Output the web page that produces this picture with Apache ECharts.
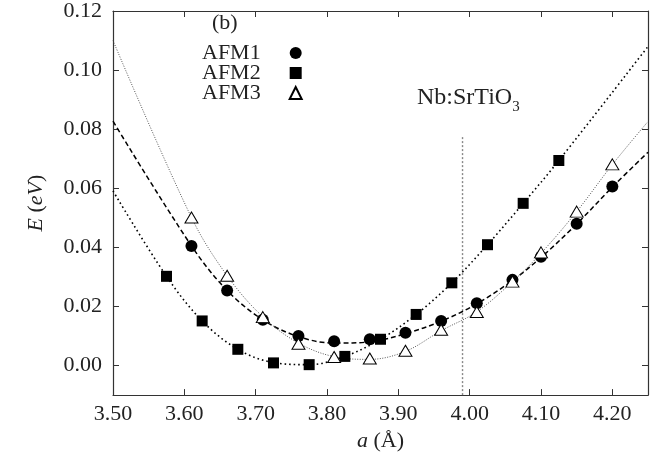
<!DOCTYPE html>
<html><head><meta charset="utf-8">
<script src="https://cdn.jsdelivr.net/npm/echarts@6/dist/echarts.min.js"></script>
<style>html,body{margin:0;padding:0;background:#fff}#c{width:664px;height:457px}</style>
</head><body><div id="c"></div>
<script>
// ---- data ----
const xTicks = [3.50, 3.60, 3.70, 3.80, 3.90, 4.00, 4.10, 4.20];
const yTicks = [0.00, 0.02, 0.04, 0.06, 0.08, 0.10, 0.12];

const afm1X = [3.61, 3.66, 3.71, 3.76, 3.81, 3.86, 3.91, 3.96, 4.01, 4.06, 4.10, 4.15, 4.20];
const afm1Y = [0.0405, 0.0254, 0.0155, 0.0100, 0.0082, 0.0089, 0.0111, 0.0151, 0.0211, 0.0290, 0.0368, 0.0480, 0.0606];

const afm2X = [3.575, 3.625, 3.675, 3.725, 3.775, 3.825, 3.875, 3.925, 3.975, 4.025, 4.075, 4.125];
const afm2Y = [0.0302, 0.0151, 0.0055, 0.0009, 0.0003, 0.0031, 0.0089, 0.0173, 0.0280, 0.0409, 0.0549, 0.0694];

const afm3X = [3.61, 3.66, 3.71, 3.76, 3.81, 3.86, 3.91, 3.96, 4.01, 4.06, 4.10, 4.15, 4.20];
const afm3Y = [0.0501, 0.0304, 0.0164, 0.0074, 0.0029, 0.0024, 0.0050, 0.0121, 0.0181, 0.0284, 0.0383, 0.0521, 0.0681];

// fitted curves
const fit1X = [3.50, 3.61, 3.66, 3.71, 3.76, 3.81, 3.86, 3.91, 3.96, 4.01, 4.06, 4.10, 4.15, 4.20, 4.25];
const fit1Y = [0.0827, 0.0405, 0.0254, 0.0155, 0.0098, 0.0076, 0.0080, 0.0108, 0.0150, 0.0209, 0.0288, 0.0366, 0.0479, 0.0604, 0.0722];
const fit2X = [3.50, 3.575, 3.625, 3.675, 3.725, 3.775, 3.825, 3.875, 3.925, 3.975, 4.025, 4.075, 4.125, 4.25];
const fit2Y = [0.0591, 0.0302, 0.0151, 0.0055, 0.0010, 0.0003, 0.0031, 0.0089, 0.0173, 0.0280, 0.0409, 0.0549, 0.0694, 0.1080];
const fit3X = [3.50, 3.61, 3.66, 3.71, 3.76, 3.81, 3.86, 3.91, 3.96, 4.01, 4.06, 4.10, 4.15, 4.20, 4.25];
const fit3Y = [0.1100, 0.0501, 0.0304, 0.0165, 0.0076, 0.0030, 0.0021, 0.0048, 0.0118, 0.0182, 0.0284, 0.0380, 0.0521, 0.0680, 0.0826];

const vlineX = [3.99, 3.99];
const vlineY = [-0.01, 0.078];

const seriesNames = ['AFM1', 'AFM2', 'AFM3'];

// ---- chart ----
const zip = (xs, ys) => xs.map((x, i) => [x, ys[i]]);
const FONT = '"Liberation Serif", "DejaVu Serif", serif';
const chart = echarts.init(document.getElementById('c'), null, {renderer: 'canvas'});

const axisCommonX = {
  type: 'value', min: 3.50, max: 4.25, interval: 0.05,
  axisLine: {show: true, onZero: false, lineStyle: {color: '#333', width: 1.2}},
  axisTick: {show: true, inside: true, length: 6, customValues: xTicks, lineStyle: {color: '#333', width: 1}},
  splitLine: {show: false}
};
const axisCommonY = {
  type: 'value', min: -0.01, max: 0.12, interval: 0.01,
  axisLine: {show: true, onZero: false, lineStyle: {color: '#333', width: 1.2}},
  axisTick: {show: true, inside: true, length: 6, customValues: yTicks, lineStyle: {color: '#333', width: 1}},
  splitLine: {show: false}
};

chart.setOption({
  animation: false,
  backgroundColor: '#fff',
  textStyle: {fontFamily: FONT},
  grid: {left: 113, right: 16, top: 11, bottom: 60, containLabel: false},
  xAxis: [
    Object.assign({}, axisCommonX, {
      position: 'bottom',
      axisLabel: {show: true, customValues: xTicks, margin: 8, color: '#222', fontSize: 22, fontFamily: FONT,
        formatter: v => v.toFixed(2)},
      name: '{i|a} (Å)', nameLocation: 'middle', nameGap: 31,
      nameTextStyle: {color: '#222', fontSize: 22, fontFamily: FONT,
        rich: {i: {fontStyle: 'italic', fontSize: 22, fontFamily: FONT, color: '#222'}}}
    }),
    Object.assign({}, axisCommonX, {position: 'top', axisLabel: {show: false}})
  ],
  yAxis: [
    Object.assign({}, axisCommonY, {
      position: 'left',
      axisLabel: {show: true, customValues: yTicks, margin: 11, color: '#222', fontSize: 22, fontFamily: FONT,
        formatter: v => v.toFixed(2)},
      name: '{i|E} ({i|eV})', nameLocation: 'middle', nameGap: 66,
      nameTextStyle: {color: '#222', fontSize: 22, fontFamily: FONT,
        rich: {i: {fontStyle: 'italic', fontSize: 22, fontFamily: FONT, color: '#222'}}}
    }),
    Object.assign({}, axisCommonY, {position: 'right', axisLabel: {show: false}})
  ],
  legend: {
    data: seriesNames, orient: 'vertical', align: 'right',
    left: 197, top: 37, itemGap: -2, itemWidth: 12, itemHeight: 12,
    symbolKeepAspect: true,
    textStyle: {fontSize: 22, fontFamily: FONT, color: '#222', lineHeight: 20, height: 20,
      padding: [0, 24, 0, 0]},
    selectedMode: false
  },
  graphic: [
    {type: 'text', left: 212, top: 12, style: {text: '(b)', font: '22px "Liberation Serif", serif', fill: '#222'}},
    {type: 'text', left: 417, top: 86, style: {
      text: '{m|Nb:SrTiO}{s|3}',
      rich: {m: {fontSize: 24, fontFamily: FONT, fill: '#222', verticalAlign: 'bottom'},
             s: {fontSize: 15, fontFamily: FONT, fill: '#222', verticalAlign: 'bottom', padding: [0, 0, -5, 0]}}}}
  ],
  series: [
    {type: 'line', name: 'fit1', data: zip(fit1X, fit1Y), smooth: 0.35, symbol: 'none', silent: true,
      lineStyle: {color: '#000', width: 1.5, type: [5, 3]}, z: 2},
    {type: 'line', name: 'fit2', data: zip(fit2X, fit2Y), smooth: 0.35, symbol: 'none', silent: true,
      lineStyle: {color: '#000', width: 1.6, type: [1.6, 3]}, z: 2},
    {type: 'line', name: 'fit3', data: zip(fit3X, fit3Y), smooth: 0.35, symbol: 'none', silent: true,
      lineStyle: {color: '#555', width: 1, type: [1, 1.5]}, z: 2},
    {type: 'line', name: 'vline', data: zip(vlineX, vlineY), symbol: 'none', silent: true,
      lineStyle: {color: '#888', width: 1.4, type: [2, 2]}, z: 1},
    {type: 'scatter', name: 'AFM1', data: zip(afm1X, afm1Y), symbol: 'circle', symbolSize: 12,
      itemStyle: {color: '#000', opacity: 1}, z: 5},
    {type: 'scatter', name: 'AFM2', data: zip(afm2X, afm2Y), symbol: 'rect', symbolSize: 11,
      itemStyle: {color: '#000', opacity: 1}, z: 5},
    {type: 'scatter', name: 'AFM3', data: zip(afm3X, afm3Y), symbol: 'triangle', symbolSize: [13, 11],
      itemStyle: {color: '#fff', borderColor: '#000', borderWidth: 1, opacity: 1}, z: 6}
  ]
});
</script>
</body></html>
